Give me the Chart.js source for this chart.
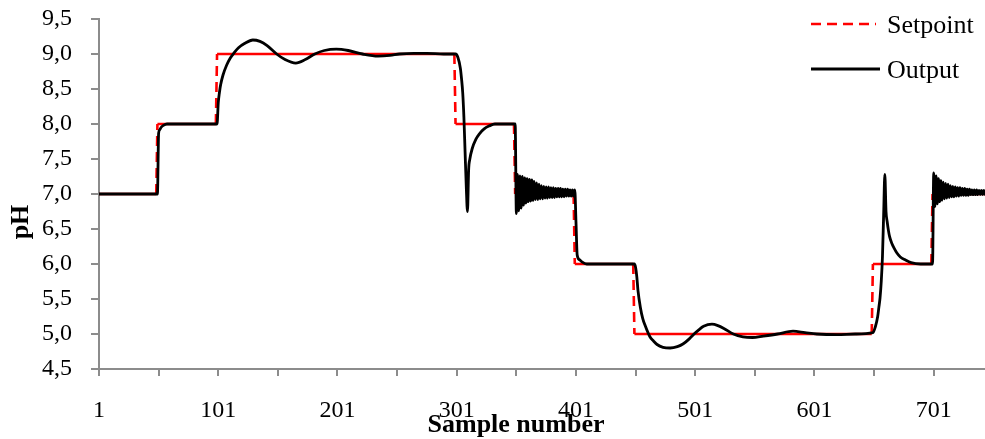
<!DOCTYPE html>
<html>
<head>
<meta charset="utf-8">
<script src="https://cdn.jsdelivr.net/npm/chart.js@4/dist/chart.umd.min.js"></script>
<style>
  html, body { margin: 0; padding: 0; background: #fff; }
  #wrap { width: 985px; height: 439px; position: relative; }
</style>
</head>
<body>
<div id="wrap"><canvas id="ph-chart"></canvas></div>
<script>
// Setpoint steps (sample number, pH)
var setpointSamples = [1, 49, 50, 99, 100, 299, 300, 349, 350, 399, 400, 449, 450, 649, 650, 699, 700, 745];
var setpointValues  = [7, 7, 8, 8, 9, 9, 8, 8, 7, 7, 6, 6, 5, 5, 6, 6, 7, 7];

// Output, smooth parts
var outputSamples = [1, 50, 51, 52, 53, 55, 58, 100, 101, 102, 103, 105, 108, 111, 114, 118, 123, 130, 136, 142,
    150, 157, 166, 174, 182, 190, 200, 210, 222, 235, 245, 253, 265, 276, 290, 300, 302, 304, 305, 306,
    307, 308, 309, 310, 311, 312, 314, 317, 320, 324, 328, 333, 350,
    401, 402, 404, 406, 410, 450, 451, 452, 453, 455, 457, 459, 463, 466, 469, 474, 480, 486, 491, 496,
    500, 504, 508, 515, 520, 525, 533, 541, 549, 558, 570, 583, 593, 603, 620, 635, 650, 652, 654, 655,
    656, 657, 658, 659, 660, 661, 662, 663, 664, 666, 668, 670, 673, 677, 682, 690, 700];
var outputValues = [7.0, 7.0, 7.87, 7.92, 7.95, 7.98, 8.0, 8.0, 8.3, 8.45, 8.56, 8.7, 8.84, 8.94, 9.01, 9.09, 9.15, 9.2, 9.18, 9.12,
    9.0, 8.92, 8.87, 8.92, 9.0, 9.05, 9.07, 9.05, 9.0, 8.97, 8.98, 9.0, 9.01, 9.01, 9.0, 9.0, 8.95, 8.8, 8.65, 8.45,
    8.1, 7.6, 7.1, 6.75, 7.35, 7.5, 7.65, 7.78, 7.86, 7.93, 7.97, 8.0, 8.0,
    6.6, 6.13, 6.06, 6.03, 6.0, 6.0, 5.95, 5.82, 5.62, 5.38, 5.22, 5.12, 4.96, 4.9, 4.85, 4.81, 4.8, 4.82, 4.86, 4.93,
    5.0, 5.06, 5.11, 5.14, 5.12, 5.08, 5.0, 4.96, 4.95, 4.97, 5.0, 5.04, 5.02, 5.0, 4.99, 5.0, 5.02, 5.1, 5.25, 5.38,
    5.52, 5.75, 6.1, 6.7, 7.28, 6.75, 6.6, 6.48, 6.39, 6.29, 6.22, 6.16, 6.1, 6.06, 6.02, 6.0, 6.0];

// Chattering after the steps at 351 and 701, one value per sample
var chatter1Start = 351;
var chatter1Values = [6.72, 7.28, 6.76, 7.26, 6.80, 7.25, 6.84, 7.23, 6.87, 7.22, 6.89, 7.21, 6.90, 7.20, 6.91, 7.18,
    6.92, 7.16, 6.92, 7.14, 6.93, 7.12, 6.93, 7.11, 6.94, 7.10, 6.94, 7.10, 6.95, 7.09, 6.95, 7.09, 6.95, 7.08,
    6.96, 7.08, 6.96, 7.08, 6.96, 7.07, 6.96, 7.07, 6.97, 7.07, 6.97, 7.06, 6.97, 7.06, 6.97, 7.06];
var chatter2Start = 701;
var chatter2Values = [7.30, 6.82, 7.26, 6.86, 7.22, 6.89, 7.19, 6.91, 7.17, 6.93, 7.15, 6.94, 7.14, 6.95, 7.12, 6.96,
    7.11, 6.96, 7.10, 6.97, 7.09, 6.97, 7.09, 6.98, 7.08, 6.98, 7.08, 6.98, 7.07, 6.98, 7.07, 6.99, 7.06, 6.99,
    7.06, 6.99, 7.06, 6.99, 7.05, 6.99, 7.05, 6.99, 7.05, 6.99, 7.05];

var xTickValues = [1, 51, 101, 151, 201, 251, 301, 351, 401, 451, 501, 551, 601, 651, 701];
var xTickLabels = ['1', '', '101', '', '201', '', '301', '', '401', '', '501', '', '601', '', '701'];
var yTickLabels = ['4,5', '5,0', '5,5', '6,0', '6,5', '7,0', '7,5', '8,0', '8,5', '9,0', '9,5'];

var seriesNames = ['Setpoint', 'Output'];
var xTitle = 'Sample number';
var yTitle = 'pH';

function pairs(xs, ys) {
    return xs.map(function(x, i) { return { x: x, y: ys[i] }; });
}

var outputData = pairs(outputSamples, outputValues);
chatter1Values.forEach(function(v, i) { outputData.push({ x: chatter1Start + i, y: v }); });
chatter2Values.forEach(function(v, i) { outputData.push({ x: chatter2Start + i, y: v }); });
outputData.sort(function(a, b) { return a.x - b.x; });

var axisGrey = '#8c8c8c';
var serif = '"Liberation Serif", "Times New Roman", serif';
Chart.defaults.font.family = serif;
Chart.defaults.color = '#000';

// legend + axis titles drawn where the original has them
var overlay = {
    id: 'overlay',
    afterDraw: function(chart) {
        var c = chart.ctx;
        c.save();
        c.fillStyle = '#000';
        c.font = 'bold 26px ' + serif;
        c.textAlign = 'center';
        c.textBaseline = 'alphabetic';
        c.fillText(xTitle, 516, 432);
        c.save();
        c.translate(28, 222);
        c.rotate(-Math.PI / 2);
        c.fillText(yTitle, 0, 0);
        c.restore();

        var rows = [24, 69];
        chart.data.datasets.forEach(function(ds, i) {
            var y = rows[i];
            c.strokeStyle = ds.borderColor;
            c.lineWidth = ds.borderWidth;
            c.setLineDash(i === 0 ? [10, 6] : []);
            c.beginPath();
            c.moveTo(811, y);
            c.lineTo(i === 0 ? 876 : 880, y);
            c.stroke();
            c.setLineDash([]);
            c.font = '26px ' + serif;
            c.textAlign = 'left';
            c.fillText(ds.label, 887, y + 9);
        });
        c.restore();
    }
};

var ctx = document.getElementById('ph-chart').getContext('2d');
var chart = new Chart(ctx, {
    type: 'line',
    data: {
        datasets: [{
            label: seriesNames[0],
            data: pairs(setpointSamples, setpointValues),
            borderColor: '#ff0000',
            borderWidth: 2.6,
            pointRadius: 0,
            tension: 0,
            order: 1,
            segment: {
                borderDash: function(s) {
                    return s.p0.parsed.y !== s.p1.parsed.y ? [10, 6] : [];
                }
            }
        }, {
            label: seriesNames[1],
            data: outputData,
            borderColor: '#000000',
            borderWidth: 2.8,
            pointRadius: 0,
            cubicInterpolationMode: 'monotone',
            order: 0
        }]
    },
    options: {
        responsive: true,
        maintainAspectRatio: false,
        animation: false,
        events: [],
        layout: { padding: { top: 19, right: 0, left: 0, bottom: 0 } },
        plugins: {
            legend: { display: false },
            tooltip: { enabled: false }
        },
        scales: {
            x: {
                type: 'linear',
                min: 1,
                max: 744,
                afterBuildTicks: function(scale) {
                    scale.ticks = xTickValues.map(function(v) { return { value: v }; });
                },
                afterFit: function(scale) {
                    scale.height = 70;
                    scale.paddingLeft = 0;
                    scale.paddingRight = 0;
                },
                grid: { drawOnChartArea: false, drawTicks: true, tickLength: 7, color: axisGrey, lineWidth: 2 },
                border: { display: true, color: axisGrey, width: 2 },
                ticks: {
                    autoSkip: false,
                    maxRotation: 0,
                    padding: 20,
                    font: { size: 24 },
                    callback: function(value, index) { return xTickLabels[index]; }
                }
            },
            y: {
                min: 4.5,
                max: 9.5,
                afterFit: function(scale) {
                    // tick padding would otherwise push the plot top down
                    scale.width = 99;
                    scale.paddingTop = 0;
                    scale.paddingBottom = 0;
                },
                grid: { drawOnChartArea: false, drawTicks: true, tickLength: 8, color: axisGrey, lineWidth: 2 },
                border: { display: true, color: axisGrey, width: 2 },
                ticks: {
                    stepSize: 0.5,
                    padding: 19,
                    font: { size: 24 },
                    callback: function(value, index) { return yTickLabels[index]; }
                }
            }
        }
    },
    plugins: [overlay]
});
</script>
</body>
</html>
